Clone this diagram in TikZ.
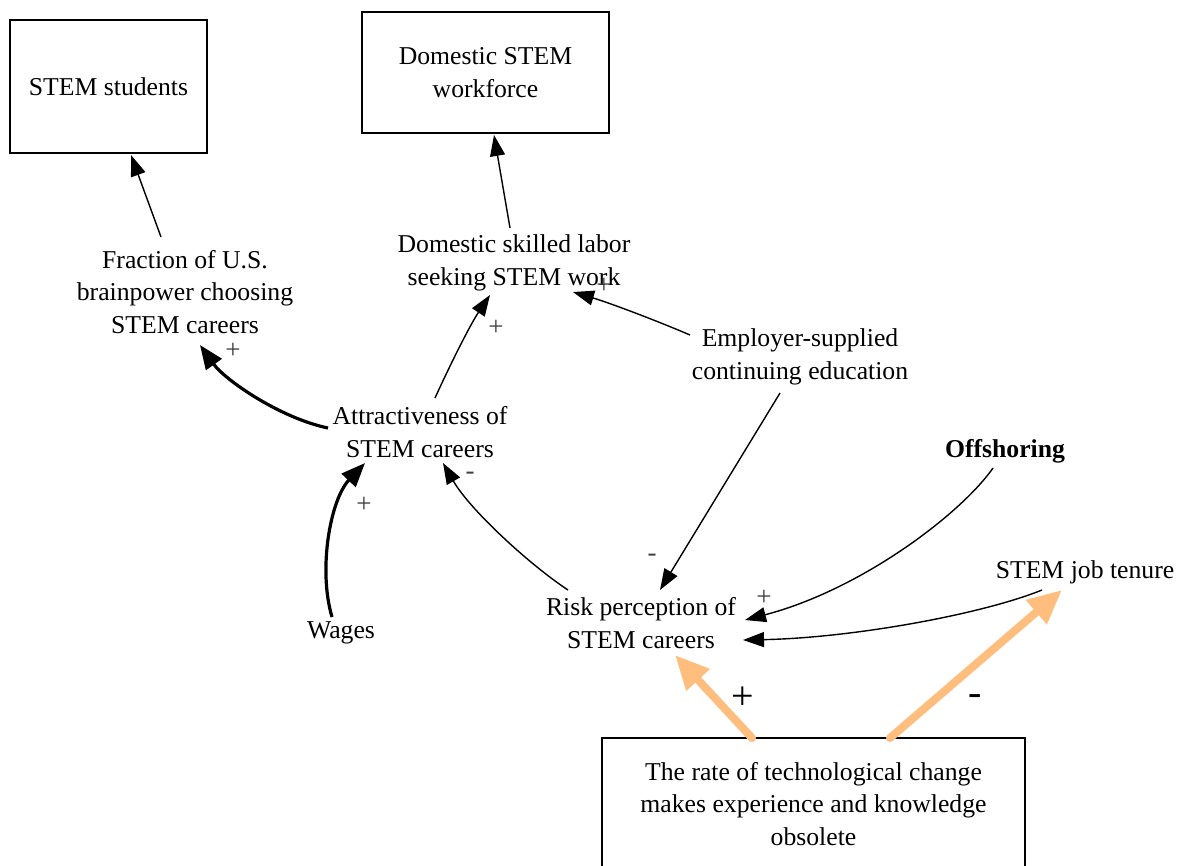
\documentclass[tikz,border=0pt]{standalone}
\usepackage{fontspec}
\setmainfont{Liberation Serif}
\usetikzlibrary{arrows.meta}
\definecolor{orangeA}{RGB}{255,190,125}
\begin{document}
\begin{tikzpicture}[x=1pt,y=-1pt,
  txt/.style={align=center,font=\fontsize{25.7}{32.5}\selectfont,inner sep=0pt},
  boxnode/.style={draw,line width=1.2pt,align=center,font=\fontsize{25.7}{32.5}\selectfont},
  thin/.style={line width=1.4pt,-{Triangle[length=21pt,width=15pt]}},
  thick/.style={line width=3.2pt,-{Triangle[length=24pt,width=19pt]}},
  orangearrow/.style={line width=8pt,orangeA,line cap=round,-{Triangle[length=34pt,width=30pt]}},
  pm/.style={font=\fontsize{27}{27}\selectfont,text=black!75,inner sep=0pt},
  bigpm/.style={font=\fontsize{40}{40}\selectfont,inner sep=0pt}]
\useasboundingbox (0,0) rectangle (1188,865);
\fill[white] (0,0) rectangle (1188,865);
% nodes
\node[boxnode,minimum width=197pt,minimum height=133pt] (ss) at (108.5,86.5) {STEM students};
\node[boxnode,minimum width=247pt,minimum height=121pt] (dsw) at (485.5,72.5) {Domestic STEM\\workforce};
\node[txt] (frac) at (185,292) {Fraction of U.S.\\brainpower choosing\\STEM careers};
\node[txt] (dsl) at (514,263) {Domestic skilled labor\\seeking STEM work};
\node[txt] (emp) at (800,357) {Employer-supplied\\continuing education};
\node[txt] (attr) at (420,432) {Attractiveness of\\STEM careers};
\node[txt,font=\fontsize{25.7}{32.5}\selectfont\bfseries] (off) at (1005,451) {Offshoring};
\node[txt] (ten) at (1085,572) {STEM job tenure};
\node[txt] (risk) at (641,623) {Risk perception of\\STEM careers};
\node[txt] (wages) at (341,633) {Wages};
\node[boxnode,minimum width=423pt,minimum height=132pt] (tech) at (813.5,804) {The rate of technological change\\makes experience and knowledge\\obsolete};
% connectors
\draw[thin] ([shift={(-24,-55)}]frac.center) -- ([shift={(22.5,68.5)}]ss.center);
\draw[thin] ([shift={(-4,-35)}]dsl.center) -- ([shift={(8.5,62.5)}]dsw.center);
\draw[thick] ([shift={(-92,-4)}]attr.center) .. controls (280,418) and (225,380) .. ([shift={(15,53)}]frac.center);
\draw[thin] ([shift={(15,-34)}]attr.center) .. controls (450,365) and (470,325) .. ([shift={(-24,32)}]dsl.center);
\draw[thin] ([shift={(-110,-22)}]emp.center) .. controls (660,322) and (610,303) .. ([shift={(59,29)}]dsl.center);
\draw[thin] ([shift={(-20,36)}]emp.center) -- ([shift={(19,-33)}]risk.center);
\draw[thin] ([shift={(-73,-33)}]risk.center) .. controls (530,565) and (470,510) .. ([shift={(23,31)}]attr.center);
\draw[thick] ([shift={(-9,-16)}]wages.center) .. controls (318,570) and (330,500) .. ([shift={(-55,31)}]attr.center);
\draw[thin] ([shift={(-12,17)}]off.center) .. controls (960,515) and (860,590) .. ([shift={(104,-3)}]risk.center);
\draw[thin] ([shift={(-43,18)}]ten.center) .. controls (980,615) and (850,638) .. ([shift={(102,17)}]risk.center);
\draw[orangearrow] ([shift={(-61.5,-66)}]tech.center) -- ([shift={(34,32)}]risk.center);
\draw[orangearrow] ([shift={(76.5,-66)}]tech.center) -- ([shift={(-23,18)}]ten.center);
% polarity labels
\node[pm] (l1) at (233,351) {+};
\node[pm] (l2) at (496,328) {+};
\node[pm] (l3) at (604,286) {+};
\node[pm] (l4) at (652,558) {-};
\node[pm] (l5) at (470,476) {-};
\node[pm] (l6) at (364,505) {+};
\node[pm] (l7) at (764,598) {+};
\node[bigpm] (l8) at (743,698) {+};
\node[bigpm] (l9) at (975,700) {-};
\end{tikzpicture}
\end{document}
